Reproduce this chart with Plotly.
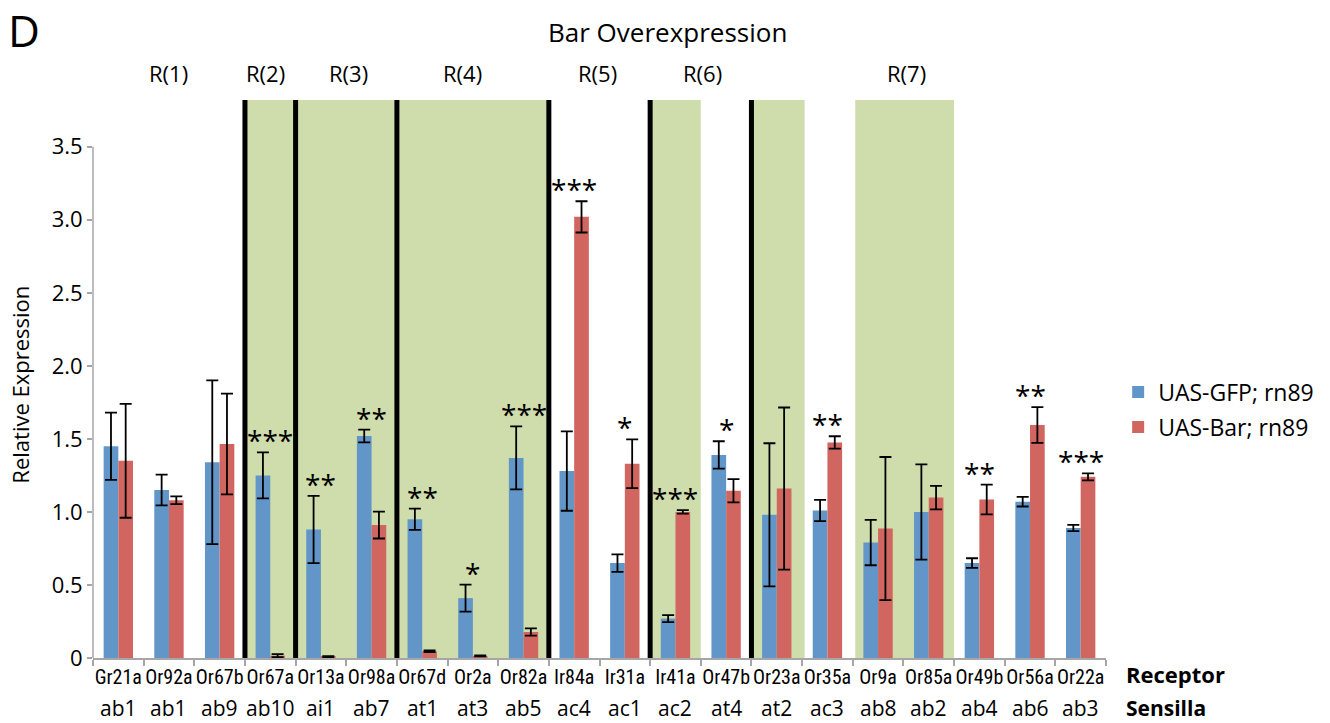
import plotly.graph_objects as go

receptors = ["Gr21a", "Or92a", "Or67b", "Or67a", "Or13a", "Or98a", "Or67d", "Or2a", "Or82a", "Ir84a",
             "Ir31a", "Ir41a", "Or47b", "Or23a", "Or35a", "Or9a", "Or85a", "Or49b", "Or56a", "Or22a"]
sensilla = ["ab1", "ab1", "ab9", "ab10", "ai1", "ab7", "at1", "at3", "ab5", "ac4",
            "ac1", "ac2", "at4", "at2", "ac3", "ab8", "ab2", "ab4", "ab6", "ab3"]
gfp = [1.45, 1.15, 1.34, 1.25, 0.88, 1.52, 0.95, 0.41, 1.37, 1.28,
       0.65, 0.27, 1.39, 0.98, 1.01, 0.79, 1.00, 0.65, 1.07, 0.89]
gfp_err = [0.23, 0.105, 0.56, 0.157, 0.23, 0.044, 0.073, 0.092, 0.215, 0.272,
           0.06, 0.024, 0.094, 0.49, 0.073, 0.155, 0.326, 0.033, 0.033, 0.022]
bar = [1.35, 1.08, 1.465, 0.016, 0.009, 0.91, 0.046, 0.014, 0.178, 3.02,
       1.33, 1.00, 1.145, 1.16, 1.476, 0.886, 1.098, 1.085, 1.595, 1.24]
bar_err = [0.39, 0.026, 0.345, 0.01, 0.003, 0.092, 0.006, 0.003, 0.025, 0.107,
           0.167, 0.012, 0.079, 0.555, 0.042, 0.49, 0.08, 0.102, 0.122, 0.024]
stars = ["", "", "", "***", "**", "**", "**", "*", "***", "***",
         "*", "***", "*", "", "**", "", "", "**", "**", "***"]
region_labels = ["R(1)", "R(2)", "R(3)", "R(4)", "R(5)", "R(6)", "R(7)"]
region_centers = [1.0, 2.9, 4.55, 6.8, 9.47, 11.54, 15.57]
green_spans = [(2.5, 8.5), (10.5, 11.5), (12.45, 13.55), (14.55, 16.5)]
divider_lines = [2.5, 3.5, 5.5, 8.5, 10.5, 12.5]
y_ticks = [0, 0.5, 1.0, 1.5, 2.0, 2.5, 3.0, 3.5]
y_ticktext = ["0", "0.5", "1.0", "1.5", "2.0", "2.5", "3.0", "3.5"]

BLUE = "#6296C8"
RED = "#D0665F"
GREEN = "#CFDDAD"
AXIS = "#A6A6A6"
FONT = "Open Sans"
YMAX = 3.82

fig = go.Figure()
fig.add_trace(go.Bar(
    x=receptors, y=gfp, name="UAS-GFP; rn89", marker_color=BLUE, marker_line_width=0,
    legendgroup="a",
    error_y=dict(type="data", array=gfp_err, visible=True, color="black", thickness=1.8, width=6),
))
fig.add_trace(go.Bar(
    x=receptors, y=bar, name="UAS-Bar; rn89", marker_color=RED, marker_line_width=0,
    legendgroup="b",
    error_y=dict(type="data", array=bar_err, visible=True, color="black", thickness=1.8, width=6),
))

shapes = []
for x0, x1 in green_spans:
    shapes.append(dict(type="rect", xref="x", yref="y", x0=x0, x1=x1, y0=0, y1=YMAX,
                       fillcolor=GREEN, line_width=0, layer="below"))
for xv in divider_lines:
    shapes.append(dict(type="line", xref="x", yref="y", x0=xv, x1=xv, y0=0, y1=YMAX,
                       line=dict(color="black", width=5), layer="below"))
shapes.append(dict(type="line", xref="paper", yref="y", x0=0, x1=0, y0=0, y1=3.5,
                   line=dict(color=AXIS, width=1.5)))

annotations = []
# significance stars
for i, s in enumerate(stars):
    if not s:
        continue
    top = max(gfp[i] + gfp_err[i], bar[i] + bar_err[i])
    annotations.append(dict(x=i, y=top, xref="x", yref="y", text=s, showarrow=False,
                            yanchor="bottom", yshift=-9,
                            font=dict(family=FONT, size=28, color="black")))
# sensilla row
for i, s in enumerate(sensilla):
    annotations.append(dict(x=i, y=-0.089, xref="x", yref="paper", text=s, showarrow=False,
                            yanchor="middle", font=dict(family=FONT, size=21, color="black")))
annotations.append(dict(x=1.018, y=-0.028, xref="paper", yref="paper", text="<b>Receptor</b>",
                        showarrow=False, xanchor="left", yanchor="middle",
                        font=dict(family=FONT, size=22, color="black")))
annotations.append(dict(x=1.018, y=-0.089, xref="paper", yref="paper", text="<b>Sensilla</b>",
                        showarrow=False, xanchor="left", yanchor="middle",
                        font=dict(family=FONT, size=21, color="black")))
# region labels
for lab, xc in zip(region_labels, region_centers):
    annotations.append(dict(x=xc, y=1.0475, xref="x", yref="paper", text=lab, showarrow=False,
                            yanchor="middle", font=dict(family=FONT, size=22, color="black")))
# title, panel letter, y title
annotations.append(dict(x=0.5676, y=1.121, xref="paper", yref="paper", text="Bar Overexpression",
                        showarrow=False, yanchor="middle", font=dict(family=FONT, size=26, color="black")))
annotations.append(dict(x=-0.086, y=1.126, xref="paper", yref="paper", text="D",
                        showarrow=False, xanchor="left", yanchor="middle",
                        font=dict(family=FONT, size=44, color="black")))
annotations.append(dict(x=-0.072, y=0.49, xref="paper", yref="paper", text="Relative Expression",
                        showarrow=False, textangle=-90, xanchor="center", yanchor="middle",
                        font=dict(family=FONT, size=22, color="black")))

fig.update_layout(
    width=1330, height=723,
    margin=dict(l=93, r=224, t=100, b=65, autoexpand=False),
    paper_bgcolor="white", plot_bgcolor="white",
    barmode="group", bargap=0.42, bargroupgap=0,
    showlegend=True,
    legend=dict(x=1.012, y=0.515, xanchor="left", yanchor="top", traceorder="grouped",
                tracegroupgap=2, font=dict(family=FONT, size=23, color="black"),
                bgcolor="rgba(0,0,0,0)", itemwidth=30),
    shapes=shapes, annotations=annotations,
    font=dict(family=FONT, color="black"),
)
fig.update_xaxes(
    type="category", categoryorder="array", categoryarray=receptors, range=[-0.5, 19.5],
    tickson="boundaries", ticks="outside", ticklen=6, tickcolor=AXIS, tickwidth=1.5,
    showline=True, linecolor=AXIS, linewidth=1.5, showgrid=False, zeroline=False,
    tickangle=0, automargin=False,
    tickfont=dict(family="Liberation Sans Narrow, Roboto Condensed, Roboto", size=20, color="black"),
)
fig.update_yaxes(
    range=[0, YMAX], tickvals=y_ticks, ticktext=y_ticktext, ticks="outside", ticklen=5,
    tickcolor=AXIS, tickwidth=1.5, showline=False, showgrid=False, zeroline=False,
    automargin=False,
    tickfont=dict(family=FONT, size=22, color="black"),
)

fig.write_html("out.html")
